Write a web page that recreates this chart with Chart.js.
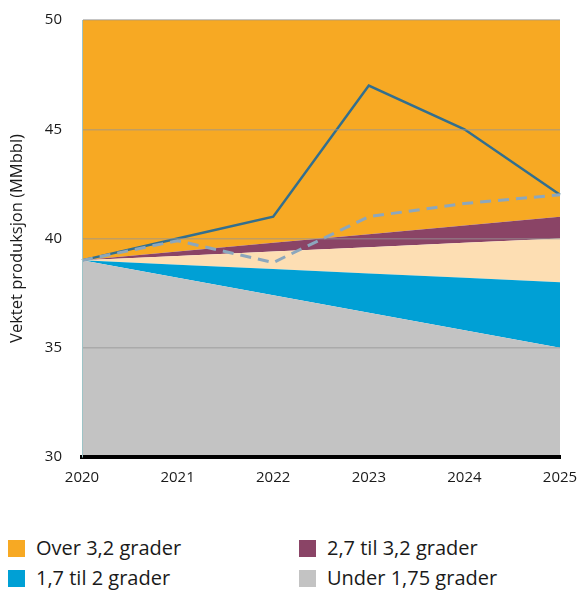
<!DOCTYPE html>
<html>
<head>
<meta charset="utf-8">
<script src="https://cdn.jsdelivr.net/npm/chart.js@4"></script>
<style>
  html, body { margin: 0; padding: 0; background: #fff; }
  body { width: 584px; height: 590px; position: relative; overflow: hidden; font-family: "Open Sans", sans-serif; }
  #wrap { position: absolute; left: 0; top: -9px; width: 584px; height: 508px; }
  .legend { position: absolute; font-size: 20px; line-height: 22px; color: #1a1a1a; display: flex; align-items: center; }
  .legend span.sw { width: 17px; height: 17px; display: inline-block; margin-right: 11px; }
</style>
</head>
<body>
<div id="wrap"><canvas id="c"></canvas></div>
<div id="legend"></div>
<script>
// Years on the x axis
const years = ['2020', '2021', '2022', '2023', '2024', '2025'];

// Upper edge of each stacked band (MMbbl)
const under175 = [39, 38.2, 37.4, 36.6, 35.8, 35];
const grader17til2 = [39, 38.8, 38.6, 38.4, 38.2, 38];
const mellomband = [39, 39.2, 39.4, 39.6, 39.8, 40];
const grader27til32 = [39, 39.4, 39.8, 40.2, 40.6, 41];
const over32 = [50, 50, 50, 50, 50, 50];

// Weighted production lines
const faktisk = [39, 40, 41, 47, 45, 42];
const prognose = [39, 39.9, 38.9, 41, 41.6, 42];

const colors = {
  under: '#c3c3c3',
  blue: '#00a0d5',
  peach: '#fddeb3',
  purple: '#8a4466',
  orange: '#f7a923',
  line: '#336f8e',
  dash: '#8ca7bd'
};

const area = (label, data, color, fill) => ({
  label, data, fill,
  backgroundColor: color,
  borderWidth: 0,
  pointRadius: 0,
  tension: 0,
  order: 2
});

const tickFont = { family: 'Open Sans', size: 15 };

new Chart(document.getElementById('c'), {
  type: 'line',
  data: {
    labels: years,
    datasets: [
      area('Under 1,75 grader', under175, colors.under, 'start'),
      area('1,7 til 2 grader', grader17til2, colors.blue, '-1'),
      area('', mellomband, colors.peach, '-1'),
      area('2,7 til 3,2 grader', grader27til32, colors.purple, '-1'),
      area('Over 3,2 grader', over32, colors.orange, '-1'),
      {
        label: 'Faktisk', data: faktisk, fill: false,
        borderColor: colors.line, borderWidth: 2.5, pointRadius: 0, tension: 0, order: 1
      },
      {
        label: 'Prognose', data: prognose, fill: false,
        borderColor: colors.dash, borderWidth: 3, borderDash: [11, 7], pointRadius: 0, tension: 0, order: 0
      }
    ]
  },
  options: {
    responsive: true,
    maintainAspectRatio: false,
    animation: false,
    layout: { padding: { top: 0, right: 24, left: 0, bottom: 0 } },
    plugins: { legend: { display: false }, tooltip: { enabled: false } },
    scales: {
      x: {
        offset: false,
        afterFit: s => { s.paddingRight = 0; s.paddingLeft = 0; },
        grid: { color: 'transparent', drawTicks: false, z: 1 },
        border: { display: true, color: '#000', width: 4, z: 2 },
        ticks: { color: '#1a1a1a', font: tickFont, padding: 12, maxRotation: 0 }
      },
      y: {
        min: 30, max: 50,
        afterFit: s => { s.width = 82; },
        grid: { color: 'rgba(150,150,150,0.55)', lineWidth: 1.5, drawTicks: false, z: 1 },
        border: { display: true, color: '#9dc3c6', width: 1, z: 2 },
        ticks: { stepSize: 5, color: '#1a1a1a', font: tickFont, padding: 20 },
        title: { display: true, text: 'Vektet produksjon (MMbbl)', color: '#1a1a1a', font: { family: 'Open Sans', size: 16.5 }, padding: { top: 7, bottom: 0 } }
      }
    }
  }
});

// Legend below the chart
const legendItems = [
  { text: 'Over 3,2 grader', color: colors.orange, x: 8, y: 537 },
  { text: '2,7 til 3,2 grader', color: colors.purple, x: 299, y: 537 },
  { text: '1,7 til 2 grader', color: colors.blue, x: 8, y: 567 },
  { text: 'Under 1,75 grader', color: colors.under, x: 299, y: 567 }
];
const legend = document.getElementById('legend');
legendItems.forEach(it => {
  const d = document.createElement('div');
  d.className = 'legend';
  d.style.left = it.x + 'px';
  d.style.top = it.y + 'px';
  d.innerHTML = '<span class="sw" style="background:' + it.color + '"></span>' + it.text;
  legend.appendChild(d);
});
</script>
</body>
</html>
